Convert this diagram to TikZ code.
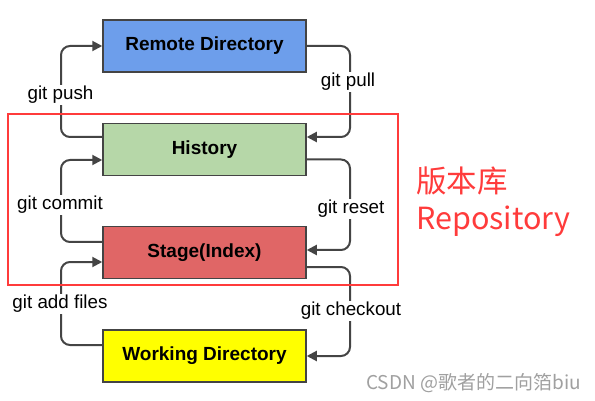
\documentclass[tikz,border=0pt]{standalone}
\usepackage{fontspec}
\setmainfont{Liberation Sans}
\newfontfamily\cjk{Noto Sans CJK SC}
\usetikzlibrary{arrows.meta}
\definecolor{remoteblue}{HTML}{6D9EEB}
\definecolor{histgreen}{HTML}{B6D7A8}
\definecolor{stagered}{HTML}{E06666}
\definecolor{workyellow}{HTML}{FFFF00}
\definecolor{linegray}{HTML}{444444}
\definecolor{repored}{HTML}{FF3B3B}
\definecolor{markgray}{HTML}{A0A0A0}

\tikzset{
	area/.style={draw=linegray, line width=1.5pt, minimum width=203pt, minimum height=52pt, inner sep=0pt, font=\fontsize{19}{22}\selectfont\bfseries},
	flow/.style={draw=linegray, line width=2pt, rounded corners=9pt, -{Triangle[length=10pt,width=10pt]}},
	cmd/.style={fill=white, inner sep=1.5pt, font=\fontsize{18.8}{21}\selectfont}
}

\begin{document}
\begin{tikzpicture}[x=1pt,y=-1pt]
	%%%%% START %%%%%
	
	\fill[white] (0,0) rectangle (595,401);
	
	\coordinate (leftrail) at (61,0);
	\coordinate (rightrail) at (350,0);
	
	\node[area, fill=remoteblue] (remote) at (204.5,46) {Remote Directory};
	\node[area, fill=histgreen] (history) at (204.5,149.5) {History};
	\node[area, fill=stagered] (stage) at (204.5,252.5) {Stage(Index)};
	\node[area, fill=workyellow] (working) at (204.5,356) {Working Directory};
	
	% left side: up
	\draw[flow] ([yshift=12.5pt]history.west) -- ([yshift=12.5pt]history.west -| leftrail) |- (remote.west);
	\draw[flow] ([yshift=10.5pt]stage.west) -- ([yshift=10.5pt]stage.west -| leftrail) |- ([yshift=-10.5pt]history.west);
	\draw[flow] ([yshift=11pt]working.west) -- ([yshift=11pt]working.west -| leftrail) |- ([yshift=-9.5pt]stage.west);
	
	% right side: down
	\draw[flow] (remote.east) -- (remote.east -| rightrail) |- ([yshift=12.5pt]history.east);
	\draw[flow] ([yshift=-10pt]history.east) -- ([yshift=-10pt]history.east -| rightrail) |- ([yshift=2.5pt]stage.east);
	\draw[flow] ([yshift=-14.5pt]stage.east) -- ([yshift=-14.5pt]stage.east -| rightrail) |- (working.east);
	
	\node[cmd] (pushlbl) at (60.5,95) {git push};
	\node[cmd] (commitlbl) at (60,205) {git commit};
	\node[cmd] (addlbl) at (60,304) {git add files};
	\node[cmd] (pulllbl) at (348,82) {git pull};
	\node[cmd] (resetlbl) at (351,209) {git reset};
	\node[cmd] (checkoutlbl) at (351,311) {git checkout};
	
	% repository frame
	\draw[repored, line width=2.5pt] (8,114) rectangle (398,285);
	\node[anchor=west, inner sep=0pt, text=repored, font=\cjk\fontsize{30.5}{32}\selectfont] (repocn) at (416,181) {版本库};
	\node[anchor=west, inner sep=0pt, text=repored, font=\cjk\fontsize{30.5}{32}\selectfont] (repoen) at (416,221) {Repository};
	
	\node[anchor=east, inner sep=0pt, text=markgray, font=\cjk\fontsize{19}{21}\selectfont] (mark) at (581,383) {CSDN @歌者的二向箔biu};
	
	%%%%% END %%%%%
\end{tikzpicture}
\end{document}
